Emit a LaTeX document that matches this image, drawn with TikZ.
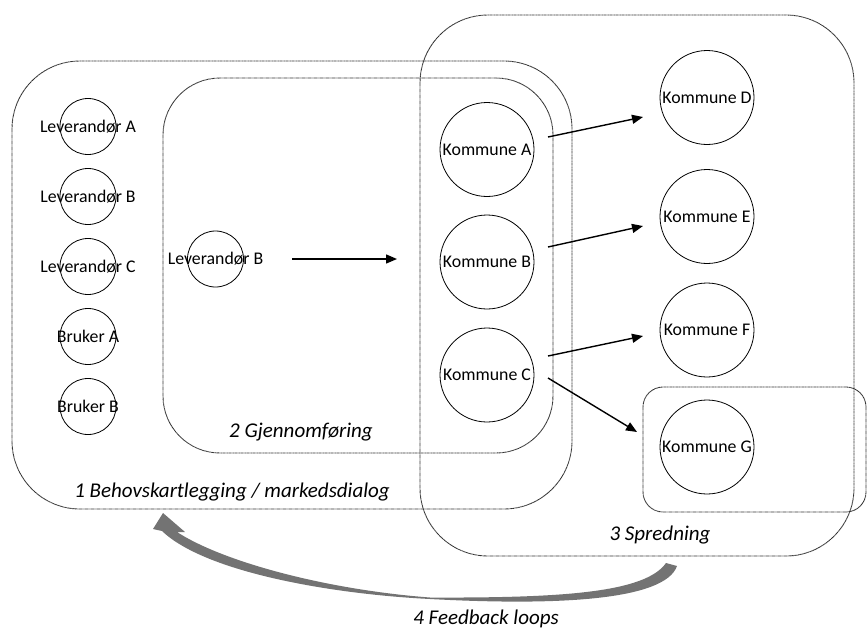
\documentclass[tikz,border=0pt]{standalone}
\usepackage{fontspec}
\setmainfont{Carlito}
\usetikzlibrary{arrows.meta,calc}
\begin{document}
\begin{tikzpicture}[x=1pt,y=-1pt,
  zone/.style={draw=black!80, line width=0.9pt, dash pattern=on 0.8pt off 0.4pt},
  actor/.style={circle, draw, line width=0.8pt, inner sep=0pt, minimum size=#1,
    font=\fontsize{17.8}{20}\selectfont},
  flow/.style={line width=1.4pt, -{Triangle[length=11pt,width=9pt]}},
  phase/.style={font=\fontsize{21}{24}\selectfont\itshape, inner sep=0pt}]
\useasboundingbox (0,0) rectangle (867,633);

% phase areas
\draw[zone, rounded corners=68] (12,61) rectangle (572,509);
\draw[zone, rounded corners=57] (163,78) rectangle (553,453);
\draw[zone, rounded corners=68] (420,15) rectangle (854,556);
\draw[zone, rounded corners=20] (643,387) rectangle (866,512);

% suppliers and users
\node[actor=56] (lA) at (88,126.5) {\makebox[0pt]{Leverandør A}};
\node[actor=56] (lB) at (88,196.5) {\makebox[0pt]{Leverandør B}};
\node[actor=56] (lC) at (88,266.5) {\makebox[0pt]{Leverandør C}};
\node[actor=56] (bA) at (88,336.5) {\makebox[0pt]{Bruker A}};
\node[actor=56] (bB) at (88,406.5) {\makebox[0pt]{Bruker B}};
\node[actor=56] (gB) at (215.5,259) {\makebox[0pt]{Leverandør B}};

% municipalities
\node[actor=94] (kA) at (487,149.5) {\makebox[0pt]{Kommune A}};
\node[actor=94] (kB) at (487,262) {\makebox[0pt]{Kommune B}};
\node[actor=94] (kC) at (487,375) {\makebox[0pt]{Kommune C}};
\node[actor=94] (kD) at (707,97.5) {\makebox[0pt]{Kommune D}};
\node[actor=94] (kE) at (707,216.5) {\makebox[0pt]{Kommune E}};
\node[actor=94] (kF) at (707,330) {\makebox[0pt]{Kommune F}};
\node[actor=94] (kG) at (707,447) {\makebox[0pt]{Kommune G}};

% flows
\draw[flow] ($(gB)+(76.5,0)$) -- ($(kB)+(-90,-3)$);
\draw[flow] ($(kA)+(61,-12.5)$) -- ($(kD)+(-64,19.5)$);
\draw[flow] ($(kB)+(61,-15)$) -- ($(kE)+(-64,9.5)$);
\draw[flow] ($(kC)+(61,-19)$) -- ($(kF)+(-64,6)$);
\draw[flow] ($(kC)+(61,3)$) -- ($(kG)+(-70,-15)$);

% phase labels
\node[phase] (p1) at (232,492) {1 Behovskartlegging / markedsdialog};
\node[phase] (p2) at (301,432) {2 Gjennomføring};
\node[phase] (p3) at (660,535) {3 Spredning};
\node[phase] (p4) at (486,619) {4 Feedback loops};

% curved feedback arrow, tapering to a point midway, head pointing up
\fill[black!55] (677,566) .. controls (665,600) and (560,606) .. (430,599)
  .. controls (330,594) and (205,572) .. (162,531)
  -- (153,529) -- (163,513) -- (185,532) -- (177,532)
  .. controls (225,563) and (330,590) .. (430,597.5)
  .. controls (560,598) and (645,593) .. (666,563) -- cycle;
\end{tikzpicture}
\end{document}
